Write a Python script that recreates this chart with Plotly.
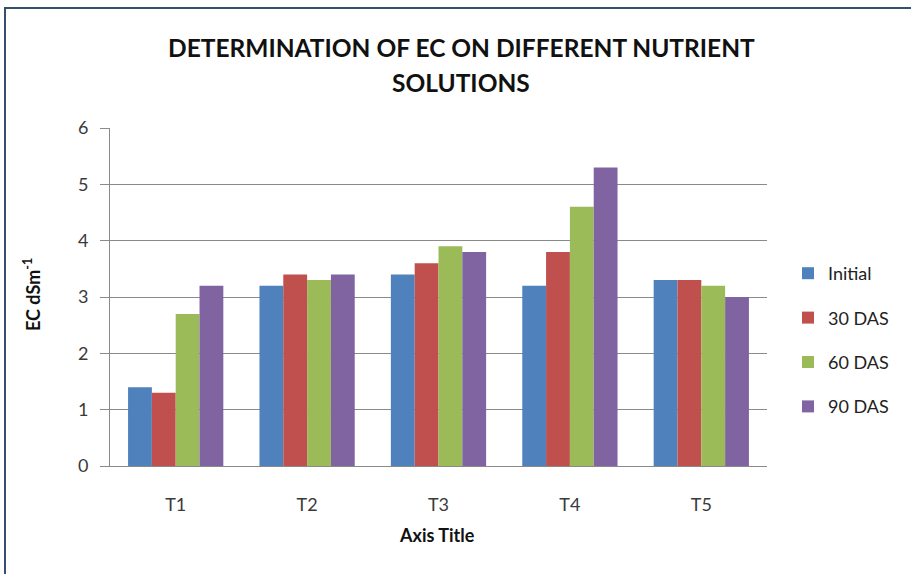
import plotly.graph_objects as go

categories = ["T1", "T2", "T3", "T4", "T5"]
initial = [1.4, 3.2, 3.4, 3.2, 3.3]
das_30 = [1.3, 3.4, 3.6, 3.8, 3.3]
das_60 = [2.7, 3.3, 3.9, 4.6, 3.2]
das_90 = [3.2, 3.4, 3.8, 5.3, 3.0]

series = [
    ("Initial", initial, "#4F81BD"),
    ("30 DAS", das_30, "#C0504D"),
    ("60 DAS", das_60, "#9BBB59"),
    ("90 DAS", das_90, "#8064A2"),
]

W, H = 911, 574
L, R, T, B = 110, 144, 128, 108
PW, PH = W - L - R, H - T - B


def px(x):
    return (x - L) / PW


def py(y):
    return (H - B - y) / PH


FONT = "Lato"

fig = go.Figure()
for i, (name, vals, color) in enumerate(series):
    fig.add_trace(go.Bar(
        x=categories, y=vals, name=name,
        marker=dict(color=color, line=dict(width=0)),
        legendgroup=f"g{i}",
    ))

fig.update_layout(
    width=W, height=H,
    margin=dict(l=L, r=R, t=T, b=B),
    paper_bgcolor="white", plot_bgcolor="white",
    barmode="group", bargap=0.275, bargroupgap=0,
    font=dict(family=FONT, size=17, color="#3a3a3a"),
    showlegend=True,
    legend=dict(
        x=px(788), y=py(255), xanchor="left", yanchor="top",
        font=dict(family=FONT, size=18, color="#222222"),
        tracegroupgap=18, bgcolor="rgba(0,0,0,0)",
        itemwidth=30,
    ),
    xaxis=dict(
        showline=True, linecolor="#8a8a8a", linewidth=1,
        ticks="outside", ticklen=22, tickcolor="rgba(0,0,0,0)",
        showgrid=False,
        tickfont=dict(family=FONT, size=18, color="#3a3a3a"),
    ),
    yaxis=dict(
        range=[0, 6], dtick=1, showgrid=True, gridcolor="#8a8a8a", gridwidth=1,
        showline=True, linecolor="#8a8a8a", linewidth=1,
        ticks="outside", ticklen=9, tickcolor="#8a8a8a",
        ticklabelstandoff=8,
        tickfont=dict(family=FONT, size=18, color="#3a3a3a"),
        zeroline=False,
    ),
    annotations=[
        dict(text="<b>DETERMINATION OF EC ON DIFFERENT NUTRIENT</b>",
             xref="paper", yref="paper", x=px(461), y=py(47),
             xanchor="center", yanchor="middle", showarrow=False,
             font=dict(family=FONT, size=24.5, color="#111111")),
        dict(text="<b>SOLUTIONS</b>",
             xref="paper", yref="paper", x=px(461), y=py(82),
             xanchor="center", yanchor="middle", showarrow=False,
             font=dict(family=FONT, size=24.5, color="#111111")),
        dict(text="<b>EC dSm<sup>-1</sup></b>",
             xref="paper", yref="paper", x=px(32), y=py(295),
             xanchor="center", yanchor="middle", showarrow=False, textangle=-90,
             font=dict(family=FONT, size=18, color="#111111")),
        dict(text="<b>Axis Title</b>",
             xref="paper", yref="paper", x=px(437), y=py(535),
             xanchor="center", yanchor="middle", showarrow=False,
             font=dict(family=FONT, size=18, color="#111111")),
    ],
    shapes=[
        dict(type="rect", xref="paper", yref="paper",
             x0=px(5), x1=px(930), y0=py(600), y1=py(8),
             line=dict(color="#34506f", width=2), fillcolor="rgba(0,0,0,0)",
             layer="above"),
    ],
)

fig.write_html("out.html")
